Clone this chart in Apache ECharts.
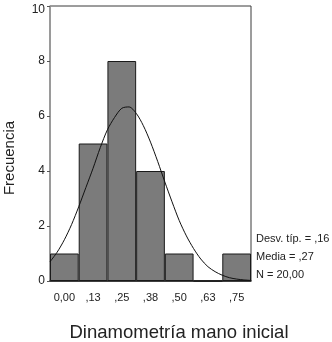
<!DOCTYPE html>
<html>
<head>
<meta charset="utf-8">
<script src="https://cdn.jsdelivr.net/npm/echarts@6/dist/echarts.min.js"></script>
<style>
  html, body { margin: 0; padding: 0; background: #fff; }
  #chart { width: 332px; height: 342px; }
</style>
</head>
<body>
<div id="chart"></div>
<script>
// histogram bins (centres) and counts
const binLabels = ['0,00', ',13', ',25', ',38', ',50', ',63', ',75'];
const counts = [1, 5, 8, 4, 1, 0, 1];

// normal curve, points [x, frecuencia]
const curveX = [-0.0625, -0.03125, 0, 0.03125, 0.0625, 0.09375, 0.125, 0.15625, 0.1875, 0.21875,
  0.25, 0.28125, 0.3125, 0.34375, 0.375, 0.40625, 0.4375, 0.46875, 0.5, 0.53125,
  0.5625, 0.59375, 0.625, 0.65625, 0.6875, 0.71875, 0.75, 0.78125, 0.8125];
const curveY = [0.7, 1.05, 1.5, 2.05, 2.7, 3.4, 4.1, 4.85, 5.5, 5.95,
  6.28, 6.33, 6.1, 5.65, 5.05, 4.35, 3.6, 2.88, 2.2, 1.64,
  1.18, 0.8, 0.52, 0.34, 0.21, 0.12, 0.07, 0.04, 0.02];

const yTicks = [0, 2, 4, 6, 8, 10];
const statsLines = ['Desv. típ. = ,16', 'Media = ,27', 'N = 20,00'];

const font = 'Arial, "Liberation Sans", sans-serif';
const chart = echarts.init(document.getElementById('chart'));

chart.setOption({
  animation: false,
  grid: {
    left: 50, right: 81, top: 6, bottom: 61,
    show: true, borderColor: '#3a3a3a', borderWidth: 1, backgroundColor: '#fff'
  },
  xAxis: [
    {
      type: 'category',
      data: binLabels,
      boundaryGap: true,
      axisLine: { lineStyle: { color: '#222', width: 1.5 } },
      axisTick: { alignWithLabel: true, length: 3, lineStyle: { color: '#555' } },
      axisLabel: { color: '#222', fontSize: 11, fontFamily: font, margin: 11 },
      splitLine: { show: false }
    },
    {
      type: 'value',
      min: -0.0625, max: 0.8125,
      show: false,
      position: 'bottom'
    }
  ],
  yAxis: {
    type: 'value',
    min: yTicks[0], max: yTicks[yTicks.length - 1], interval: 2,
    axisLine: { show: true, onZero: false, lineStyle: { color: '#9a9a9a', width: 1.5 } },
    axisTick: { show: true, length: 3, lineStyle: { color: '#555' } },
    axisLabel: {
      color: '#222', fontSize: 12, fontFamily: font, margin: 5,
      formatter: v => (v === 10 ? '{top|10}' : String(v)),
      rich: { top: { fontSize: 12, fontFamily: font, color: '#222', padding: [8, 0, 0, 0] } }
    },
    splitLine: { show: false }
  },
  series: [
    {
      type: 'bar',
      xAxisIndex: 0,
      data: counts,
      barCategoryGap: '0%',
      itemStyle: { color: '#7b7b7b', borderColor: '#1a1a1a', borderWidth: 1 },
      z: 2
    },
    {
      type: 'line',
      xAxisIndex: 1,
      data: curveX.map((x, i) => [x, curveY[i]]),
      smooth: 0.3,
      showSymbol: false,
      lineStyle: { color: '#111', width: 1 },
      z: 3
    }
  ],
  graphic: [
    {
      type: 'text', x: 10, y: 158, rotation: Math.PI / 2,
      style: { text: 'Frecuencia', font: '15px ' + font, fill: '#222', align: 'center', verticalAlign: 'middle' }
    },
    {
      type: 'text', x: 179, y: 333,
      style: { text: 'Dinamometría mano inicial', font: '18.5px ' + font, fill: '#222', align: 'center', verticalAlign: 'middle' }
    },
    ...statsLines.map((t, i) => ({
      type: 'text', x: 256, y: 239 + i * 18,
      style: { text: t, font: '11px ' + font, fill: '#222', align: 'left', verticalAlign: 'middle' }
    }))
  ]
});
</script>
</body>
</html>
